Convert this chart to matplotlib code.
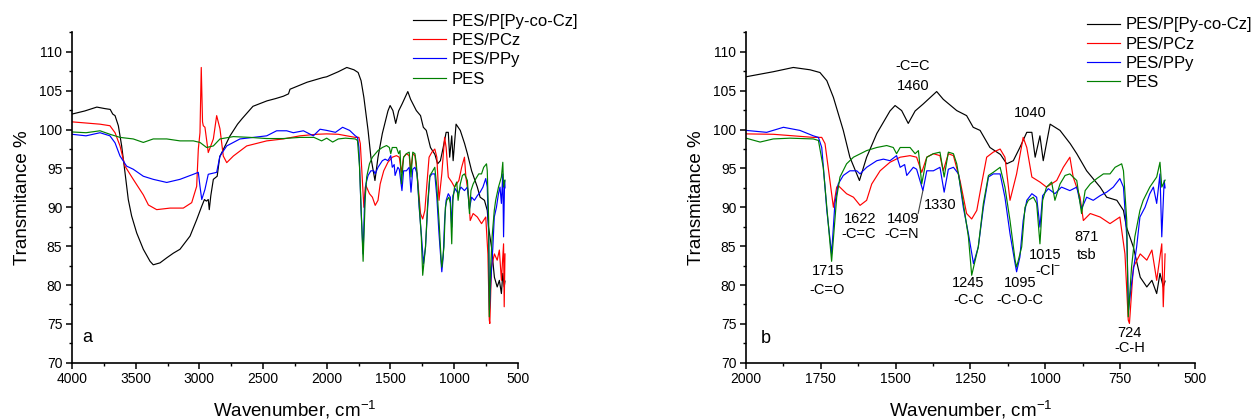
import matplotlib
matplotlib.use('Agg')
import matplotlib.pyplot as plt
from matplotlib.ticker import MultipleLocator

plt.rcParams['font.family'] = ['Liberation Sans', 'DejaVu Sans']
plt.rcParams['mathtext.fontset'] = 'custom'
plt.rcParams['mathtext.rm'] = 'Liberation Sans'
plt.rcParams['mathtext.it'] = 'Liberation Sans:italic'
plt.rcParams['mathtext.bf'] = 'Liberation Sans:bold'

# ---------------- data ----------------
series_names = ['PES/P[Py-co-Cz]', 'PES/PCz', 'PES/PPy', 'PES']
series_colors = ['#000000', '#ff0000', '#0000ff', '#008000']

wn_black = [4000, 3900, 3805, 3740, 3700, 3680, 3662, 3636, 3610, 3584, 3558, 3532, 3492,
            3440, 3387, 3362, 3309, 3256, 3204, 3152, 3073, 3021, 2981, 2960, 2945, 2930,
            2922, 2910, 2890, 2860, 2840, 2822, 2783, 2759, 2700, 2665, 2579, 2469, 2400,
            2340, 2300, 2288, 2154, 2029, 2000, 1909, 1842, 1786, 1753, 1730, 1708, 1675,
            1653, 1621, 1597, 1563, 1519, 1502, 1480, 1458, 1435, 1408, 1363, 1341, 1296,
            1263, 1241, 1218, 1185, 1150, 1129, 1107, 1085, 1062, 1045, 1034, 1018, 1007,
            984, 951, 917, 895, 862, 817, 795, 761, 739, 729, 706, 683, 661, 644, 628, 617,
            606, 600]
t_black = [102.0, 102.4, 102.9, 102.7, 102.6, 102.0, 101.8, 100.5, 97.9, 94.5, 91.0, 88.9, 86.7,
           84.6, 83.05, 82.6, 82.85, 83.5, 84.1, 84.6, 86.3, 88.4, 90.15, 91.0, 90.8, 91.0,
           89.7, 91.5, 93.6, 94.0, 96.5, 97.1, 98.4, 99.2, 100.7, 101.4, 103.0, 103.7, 104.0,
           104.3, 104.6, 105.2, 106.1, 106.7, 106.8, 107.45, 108.0, 107.7, 107.35, 106.3, 104.15, 99.9,
           96.45, 93.45, 96.45, 99.5, 102.4, 103.1, 102.45, 100.8, 102.4, 103.3, 104.9, 103.9, 102.45,
           101.8, 100.3, 99.9, 97.7, 96.8, 95.6, 96.0, 97.7, 99.65, 99.65, 96.45, 99.2, 96.0,
           100.7, 99.9, 98.2, 96.9, 94.7, 92.6, 91.3, 90.9, 89.6, 87.45, 84.9, 81.0, 79.75, 80.6, 78.9, 81.5,
           79.75, 80.5]

wn_red = [4000, 3780, 3702, 3662, 3623, 3584, 3519, 3440, 3400, 3335, 3230, 3126, 3060, 3021,
          3008, 2995, 2985, 2975, 2969, 2956, 2930, 2890, 2864, 2838, 2812, 2785, 2733, 2628,
          2471, 2341, 2210, 2078, 2000, 1909, 1775, 1747, 1736, 1725, 1708, 1697, 1692, 1664,
          1641, 1619, 1597, 1580, 1552, 1519, 1485, 1452, 1430, 1413, 1396, 1374, 1352, 1341,
          1324, 1307, 1285, 1263, 1246, 1229, 1213, 1196, 1174, 1151, 1135, 1118, 1096, 1074,
          1062, 1045, 1018, 996, 962, 940, 918, 907, 884, 873, 850, 817, 784, 751, 734, 723,
          719, 706, 683, 661, 644, 628, 611, 606, 600]
t_red = [101.0, 100.7, 100.5, 99.6, 97.9, 95.3, 93.6, 91.6, 90.3, 89.7, 89.9, 89.9, 90.6, 92.7,
         97.5, 99.6, 108.0, 101.0, 100.5, 100.3, 97.05, 98.8, 101.8, 100.1, 96.6, 95.75, 96.6, 97.9,
         98.55, 98.8, 99.2, 99.4, 99.45, 99.4, 99.0, 99.0, 98.2, 95.0, 90.0, 92.6, 92.8, 91.75,
         91.3, 90.25, 90.9, 93.0, 94.7, 95.8, 96.45, 96.65, 96.45, 94.5, 96.45, 96.9, 96.65, 94.7,
         96.9, 96.65, 93.45, 89.2, 88.5, 89.6, 93.0, 96.45, 97.1, 97.5, 96.45, 90.9, 94.3, 99.0,
         97.7, 93.9, 93.25, 92.6, 93.45, 95.15, 96.45, 93.9, 91.3, 88.3, 89.2, 88.75, 87.9, 88.75, 84.0, 75.5,
         75.05, 82.3, 84.0, 83.2, 84.5, 80.6, 85.3, 77.2, 84.0]

wn_blue = [4000, 3890, 3780, 3702, 3662, 3623, 3571, 3519, 3440, 3362, 3256, 3152, 3047, 3008,
           2995, 2981, 2956, 2930, 2864, 2838, 2785, 2681, 2576, 2471, 2393, 2314, 2262, 2183,
           2105, 2052, 2000, 1931, 1875, 1820, 1775, 1758, 1747, 1736, 1730, 1714, 1703, 1692,
           1675, 1653, 1630, 1619, 1597, 1563, 1541, 1519, 1497, 1485, 1470, 1463, 1441, 1430,
           1409, 1396, 1374, 1352, 1338, 1324, 1307, 1290, 1274, 1257, 1240, 1224, 1207, 1190,
           1174, 1151, 1135, 1118, 1101, 1096, 1085, 1074, 1062, 1045, 1029, 1018, 1009, 990,
           968, 946, 918, 895, 879, 862, 840, 817, 795, 773, 751, 739, 728, 722, 712, 695, 684,
           667, 651, 639, 628, 617, 611, 603, 600]
t_blue = [99.4, 99.2, 99.6, 99.2, 98.3, 96.6, 95.3, 94.9, 94.0, 93.6, 93.2, 93.6, 94.25, 94.5,
          92.7, 91.0, 92.3, 94.25, 94.5, 96.6, 97.9, 98.8, 99.0, 99.2, 99.85, 99.85, 99.6, 99.85,
          99.2, 100.05, 99.9, 99.65, 100.3, 99.9, 99.2, 99.0, 97.7, 92.6, 89.6, 84.0, 90.5, 93.0,
          94.1, 94.7, 94.7, 94.3, 95.15, 96.0, 96.2, 96.0, 96.65, 95.15, 95.5, 94.1, 95.15, 94.9,
          92.15, 94.7, 94.7, 95.15, 91.95, 94.9, 95.15, 94.3, 90.0, 86.6, 82.75, 84.9, 90.0, 93.9,
          94.3, 94.3, 91.3, 86.6, 82.75, 81.7, 83.6, 88.3, 90.9, 91.75, 91.3, 87.45, 91.5, 92.4,
          91.75, 92.6, 92.15, 92.6, 89.8, 91.3, 90.9, 91.5, 91.95, 92.6, 93.7, 92.6, 86.2, 76.8, 80.2, 84.9, 88.75,
          90.0, 91.75, 92.6, 90.5, 94.3, 86.2, 93.45, 92.5]

wn_green = [4000, 3890, 3780, 3702, 3623, 3519, 3440, 3362, 3256, 3152, 3047, 2995, 2943, 2890,
            2838, 2733, 2602, 2471, 2341, 2210, 2100, 2040, 2000, 1953, 1909, 1853, 1775, 1758,
            1742, 1730, 1714, 1697, 1686, 1664, 1641, 1597, 1563, 1530, 1508, 1497, 1485, 1452,
            1435, 1424, 1413, 1396, 1374, 1352, 1338, 1324, 1307, 1296, 1274, 1257, 1246, 1224,
            1207, 1190, 1174, 1151, 1135, 1118, 1101, 1096, 1079, 1068, 1057, 1040, 1029, 1018,
            1009, 996, 979, 968, 951, 934, 918, 895, 879, 867, 850, 828, 806, 784, 767, 745, 739,
            728, 723, 712, 701, 684, 673, 651, 628, 617, 611, 600]
t_green = [99.7, 99.6, 99.85, 99.4, 99.0, 98.8, 98.35, 98.8, 98.8, 98.55, 98.55, 98.35, 97.7, 97.9,
           98.8, 99.1, 99.0, 98.85, 98.85, 99.0, 99.0, 98.55, 98.9, 98.4, 98.8, 98.9, 98.8, 98.6,
           95.15, 90.0, 83.05, 91.3, 93.9, 95.6, 96.45, 97.3, 97.7, 97.95, 97.7, 96.9, 97.7, 97.7,
           96.9, 97.3, 93.0, 96.45, 96.9, 97.1, 93.9, 97.1, 96.9, 95.6, 90.5, 86.2, 81.25, 84.9,
           90.5, 94.1, 94.5, 95.15, 92.6, 88.3, 83.2, 82.3, 84.9, 90.0, 90.9, 91.3, 90.5, 85.3,
           90.9, 92.6, 93.25, 90.9, 93.0, 94.1, 94.3, 93.45, 89.2, 92.15, 93.0, 93.7, 94.3, 94.3, 95.15, 95.6, 94.7,
           88.3, 75.9, 82.3, 86.2, 89.6, 90.9, 92.6, 93.9, 95.8, 92.6, 93.5]

series_wn = [wn_black, wn_red, wn_blue, wn_green]
series_t = [t_black, t_red, t_blue, t_green]

y_ticks = [70, 75, 80, 85, 90, 95, 100, 105, 110]
left_xticks = [4000, 3500, 3000, 2500, 2000, 1500, 1000, 500]
right_xticks = [2000, 1750, 1500, 1250, 1000, 750, 500]

# peak labels for panel b: (wavenumber, transmittance, text)
peak_labels = [
    (1442, 108.2, '-C=C'), (1442, 105.6, '1460'),
    (1051, 102.2, '1040'),
    (1725, 81.8, '1715'), (1728, 79.3, '-C=O'),
    (1619, 88.5, '1622'), (1624, 86.6, '-C=C'),
    (1474, 88.5, '1409'), (1479, 86.6, '-C=N'),
    (1352, 90.25, '1330'),
    (1257, 80.2, '1245'), (1257, 78.05, '-C-C'),
    (1085, 80.2, '1095'), (1085, 78.05, '-C-O-C'),
    (1001, 83.8, '1015'), (991, 81.9, '-Cl$^{-}$'),
    (862, 86.2, '871'), (862, 83.8, 'tsb'),
    (719, 73.85, '724'), (719, 71.85, '-C-H'),
]

# ---------------- figure ----------------
W, H = 1254, 419
fig = plt.figure(figsize=(W / 100, H / 100), dpi=100)
bottom = 1 - 362.7 / H
height = (362.7 - 32.5) / H
ax1 = fig.add_axes([72 / W, bottom, (517.7 - 72) / W, height])
ax2 = fig.add_axes([746 / W, bottom, (1195 - 746) / W, height])

for ax, xlim, xt, minor in [(ax1, (4000, 500), left_xticks, 250),
                            (ax2, (2000, 500), right_xticks, 125)]:
    for wn, t, name, c in zip(series_wn, series_t, series_names, series_colors):
        ax.plot(wn, t, color=c, lw=0.85, label=name)
    ax.set_xlim(*xlim)
    ax.set_ylim(70, 112.5)
    ax.set_xticks(xt)
    ax.xaxis.set_minor_locator(MultipleLocator(minor))
    ax.set_yticks(y_ticks)
    ax.yaxis.set_minor_locator(MultipleLocator(2.5))
    for s in ['top', 'right']:
        ax.spines[s].set_visible(False)
    for s in ['left', 'bottom']:
        ax.spines[s].set_linewidth(1.2)
    ax.tick_params(which='major', direction='out', length=4.5, width=1.1, labelsize=10, pad=2.5)
    ax.tick_params(which='minor', direction='out', length=2.5, width=1.0)
    ax.set_xlabel('Wavenumber, cm$^{\\mathrm{-1}}$', fontsize=13.5, labelpad=9)
    ax.set_ylabel('Transmitance %', fontsize=13.5, labelpad=6)

ax1.text(0.034, 0.075, 'a', transform=ax1.transAxes, fontsize=13, ha='center', va='center')
ax2.text(0.045, 0.074, 'b', transform=ax2.transAxes, fontsize=13, ha='center', va='center')

leg_kw = dict(loc='upper left', frameon=False, fontsize=12, handlelength=2.0,
              handletextpad=0.3, labelspacing=0.25, borderaxespad=0, borderpad=0)
ax1.legend(bbox_to_anchor=((413 - 72) / 445.7, (362.7 - 14) / 330.2), **leg_kw)
ax2.legend(bbox_to_anchor=((1087 - 746) / 449, (362.7 - 17.5) / 330.2), **leg_kw)

for wn, t, txt in peak_labels:
    ax2.text(wn, t, txt, fontsize=10.5, ha='center', va='center')

ax2.annotate('', xy=(1409, 92.15), xytext=(1425, 89.2),
             arrowprops=dict(arrowstyle='-', color='#444444', lw=0.8, shrinkA=0, shrinkB=0))

fig.savefig('out.png', dpi=100)
